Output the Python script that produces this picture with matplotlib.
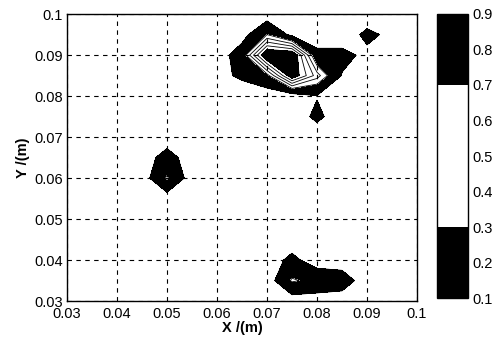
import numpy as np
import matplotlib
matplotlib.use("Agg")
from matplotlib import pyplot as plt
from matplotlib.colors import ListedColormap, BoundaryNorm

plt.rcParams['font.family'] = ['Liberation Sans', 'DejaVu Sans']

# grid of the measurement (0.005 m steps)
x_grid = np.arange(0.03, 0.1001, 0.005)
y_grid = np.arange(0.03, 0.1001, 0.005)

# non-zero grid nodes
peak_x = [0.065, 0.07, 0.075, 0.065, 0.065, 0.07, 0.075, 0.08, 0.085, 0.09,
          0.065, 0.07, 0.075, 0.08, 0.085, 0.06, 0.08, 0.08,
          0.09, 0.095,
          0.05, 0.05,
          0.075, 0.08, 0.085, 0.075]
peak_y = [0.095, 0.095, 0.095, 0.095, 0.09, 0.09, 0.09, 0.09, 0.09, 0.09,
          0.085, 0.085, 0.085, 0.085, 0.085, 0.085, 0.08, 0.075,
          0.095, 0.095,
          0.06, 0.065,
          0.035, 0.035, 0.035, 0.04]
peak_z = [0.03, 0.30, 0.05, 0.03, 0.20, 0.85, 0.85, 0.15, 0.15, 0.06,
          0.13, 0.25, 0.80, 0.45, 0.09, 0.05, 0.09, 0.14,
          0.14, 0.06,
          0.32, 0.18,
          0.32, 0.25, 0.20, 0.15]

levels = [0.1, 0.2, 0.3, 0.4, 0.5, 0.6, 0.7, 0.8, 0.9]
cbar_ticks = [0.1, 0.2, 0.3, 0.4, 0.5, 0.6, 0.7, 0.8, 0.9]

Z = np.zeros((len(y_grid), len(x_grid)))
for px, py, pz in zip(peak_x, peak_y, peak_z):
    i = int(round((px - 0.03) / 0.005))
    j = int(round((py - 0.03) / 0.005))
    Z[j, i] = pz

band_colors = ['black', 'black', 'white', 'white', 'white', 'white', 'black', 'black']
cmap = ListedColormap(band_colors)
norm = BoundaryNorm(levels, cmap.N)

fig = plt.figure(figsize=(4.94, 3.41), dpi=100)
ax = fig.add_axes([0.1356, 0.117, 0.7085, 0.8416])
cax = fig.add_axes([0.885, 0.126, 0.062, 0.833])

X, Y = np.meshgrid(x_grid, y_grid)
cf = ax.contourf(X, Y, Z, levels=levels, cmap=cmap, norm=norm, extend='neither')
ax.contour(X, Y, Z, levels=levels, colors='black', linewidths=0.6)

ax.set_xlim(0.03, 0.1)
ax.set_ylim(0.03, 0.1)
ax.set_xticks([0.03, 0.04, 0.05, 0.06, 0.07, 0.08, 0.09, 0.1])
ax.set_yticks([0.03, 0.04, 0.05, 0.06, 0.07, 0.08, 0.09, 0.1])
ax.set_xticklabels(['0.03', '0.04', '0.05', '0.06', '0.07', '0.08', '0.09', '0.1'])
ax.set_yticklabels(['0.03', '0.04', '0.05', '0.06', '0.07', '0.08', '0.09', '0.1'])
ax.tick_params(axis='x', length=0, labelsize=10.5, pad=4)
ax.tick_params(axis='y', length=0, labelsize=10.5, pad=3)
ax.grid(True, color='black', linestyle=(0, (4, 4)), linewidth=0.8)
for s in ax.spines.values():
    s.set_linewidth(1.0)
ax.set_xlabel('X /(m)', fontsize=10.5, fontweight='bold', labelpad=0)
ax.set_ylabel('Y /(m)', fontsize=10.5, fontweight='bold', labelpad=3)

cb = fig.colorbar(cf, cax=cax, ticks=cbar_ticks)
cb.ax.tick_params(length=0, labelsize=10.5, pad=3)
cb.ax.set_yticklabels(['0.1', '0.2', '0.3', '0.4', '0.5', '0.6', '0.7', '0.8', '0.9'])
cb.outline.set_linewidth(1.0)

fig.savefig('out.png', dpi=100)
